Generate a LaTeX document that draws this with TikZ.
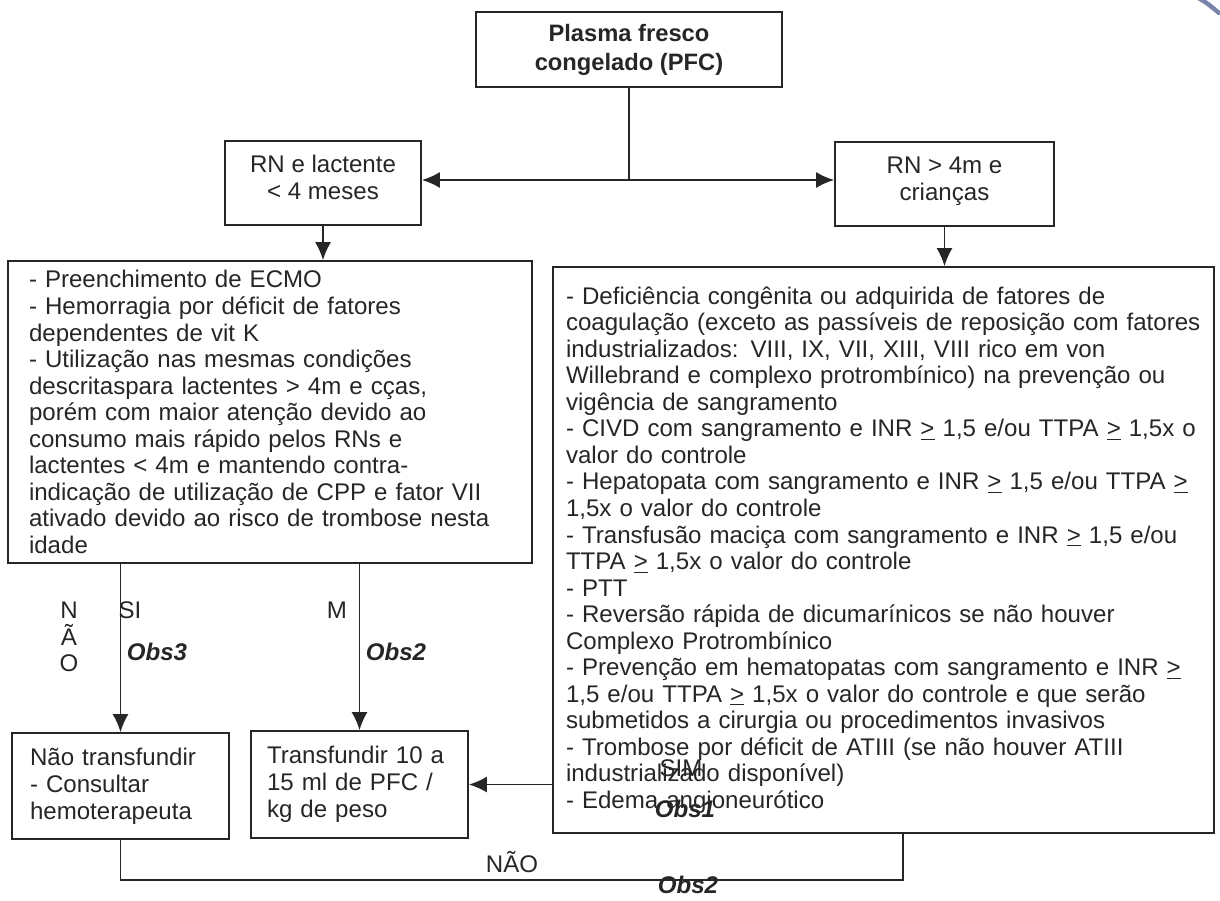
\documentclass[tikz,border=0pt]{standalone}
\usepackage{fontspec}
\setmainfont{Liberation Sans}
\usetikzlibrary{arrows.meta}

\newcommand{\gequ}{\underline{>}}
\definecolor{penblue}{RGB}{120,132,172}

\tikzstyle{block} = [rectangle, draw=black!85, line width=1pt, text=black!85,
     align=center, font=\fontsize{13.7}{15.4}\selectfont]
\tikzstyle{listbox} = [rectangle, draw=black!85, line width=1pt, text=black!85,
     align=left, font=\fontsize{13.7}{15.1}\selectfont]
\tikzstyle{arrow} = [draw=black!85, line width=1pt, -{Latex[length=3.6mm,width=3.2mm]}]
\tikzstyle{link} = [draw=black!85, line width=1pt]
\tikzstyle{lbl} = [text=black!85, font=\fontsize{13.7}{15.1}\selectfont]
\tikzstyle{obs} = [text=black!85, font=\fontsize{13.7}{15.1}\selectfont\bfseries\itshape]

\begin{document}
\begin{tikzpicture}
\useasboundingbox (0,0) rectangle (24.4,-18);

\node[block, font=\fontsize{13.5}{16.5}\selectfont\bfseries, minimum width=6.12cm, minimum height=1.5cm] (pfc) at (12.58,-0.99) {Plasma fresco\\congelado (PFC)};
\coordinate (split) at (12.58,-3.6);

\node[block, minimum width=3.92cm, minimum height=1.68cm] (rn) at (6.46,-3.66) {RN e lactente\\< 4 meses\\[-9pt]};
\node[block, minimum width=4.38cm, minimum height=1.68cm] (rnc) at (18.89,-3.68) {RN > 4m e\\crianças\\[-9pt]};

% indicacoes por faixa etaria
\node[listbox, text width=9.64cm, inner xsep=0.42cm, minimum height=6.04cm] (lista) at (5.4,-8.24) {- Preenchimento de ECMO\\
- Hemorragia por déficit de fatores\\
dependentes de vit K\\
- Utilização nas mesmas condições\\
descritaspara lactentes > 4m e cças,\\
porém com maior atenção devido ao\\
consumo mais rápido pelos RNs e\\
lactentes < 4m e mantendo contra-\\
indicação de utilização de CPP e fator VII\\
ativado devido ao risco de trombose nesta\\
idade};

\node[listbox, text width=12.7cm, inner xsep=0.26cm, minimum height=11.32cm] (listb) at (17.67,-11.0) {- Deficiência congênita ou adquirida de fatores de\\
coagulação (exceto as passíveis de reposição com fatores\\
industrializados: VIII, IX, VII, XIII, VIII rico em von\\
Willebrand e complexo protrombínico) na prevenção ou\\
vigência de sangramento\\
- CIVD com sangramento e INR \gequ{} 1,5 e/ou TTPA \gequ{} 1,5x o\\
valor do controle\\
- Hepatopata com sangramento e INR \gequ{} 1,5 e/ou TTPA \gequ\\
1,5x o valor do controle\\
- Transfusão maciça com sangramento e INR \gequ{} 1,5 e/ou\\
TTPA \gequ{} 1,5x o valor do controle\\
- PTT\\
- Reversão rápida de dicumarínicos se não houver\\
Complexo Protrombínico\\
- Prevenção em hematopatas com sangramento e INR \gequ\\
1,5 e/ou TTPA \gequ{} 1,5x o valor do controle e que serão\\
submetidos a cirurgia ou procedimentos invasivos\\
- Trombose por déficit de ATIII (se não houver ATIII\\
industrializado disponível)\\
- Edema angioneurótico};

% condutas
\node[block, align=left, text width=3.62cm, inner xsep=0.36cm, minimum height=2.12cm] (nao) at (2.41,-15.72) {Não transfundir\\- Consultar\\hemoterapeuta};
\node[block, align=left, text width=3.7cm, inner xsep=0.32cm, minimum height=2.14cm] (transf) at (7.19,-15.69) {Transfundir 10 a\\15 ml de PFC /\\kg de peso};
\coordinate (back) at (18.06,-17.6);

\node[lbl, align=center] (naov) at (1.38,-12.74) {N\\Ã\\O};
\node[lbl] (si) at (2.6,-12.2) {SI};
\node[obs] (obs3) at (3.14,-13.04) {Obs3};
\node[lbl] (m) at (6.74,-12.2) {M};
\node[obs] (obs2a) at (7.92,-13.04) {Obs2};
\node[lbl] (sim) at (13.62,-15.36) {SIM};
\node[obs] (obs1) at (13.7,-16.18) {Obs1};
\node[lbl] (naoh) at (10.24,-17.24) {NÃO};
\node[obs] (obs2b) at (13.76,-17.7) {Obs2};

\path[link] (pfc.south) -- (split);
\path[arrow] (split) -- (rn.east |- split);
\path[arrow] (split) -- (rnc.west |- split);
\path[arrow] (rn.south) -- (rn.south |- lista.north);
\path[arrow] (rnc.south) -- (rnc.south |- listb.north);
\path[arrow] (nao.north |- lista.south) -- (nao.north);
\path[arrow] (transf.north |- lista.south) -- (transf.north);
\path[arrow] (listb.west |- transf.east) -- (transf.east);
\path[link] (nao.south) |- (back) -- (back |- listb.south);

% pen mark in the corner
\draw[line width=2.5pt, penblue, line cap=round] (23.95,0.05) .. controls (24.14,-0.06) .. (24.38,-0.26);
\end{tikzpicture}
\end{document}
